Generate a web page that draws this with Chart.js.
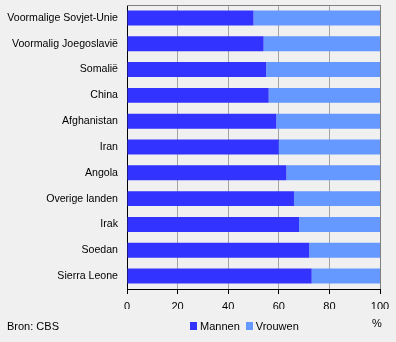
<!DOCTYPE html>
<html>
<head>
<meta charset="utf-8">
<script src="https://cdn.jsdelivr.net/npm/chart.js@4/dist/chart.umd.min.js"></script>
<style>
  html, body { margin:0; padding:0; background:#f0f0f0; }
  #wrap { position:relative; width:396px; height:342px; background:#f0f0f0; font-family:"Liberation Sans", Arial, sans-serif; font-size:11px; color:#000; }
  canvas { position:absolute; left:0; top:0; }
  .txt { position:absolute; white-space:nowrap; line-height:13px; }
  #legend { position:absolute; left:190px; top:320px; display:flex; align-items:center; }
  #legend .item { display:flex; align-items:center; margin-right:6px; }
  #legend .box { width:7px; height:8px; margin-right:3px; }
</style>
</head>
<body>
<div id="wrap">
  <canvas id="c" width="396" height="342"></canvas>
  <div class="txt" style="left:7px; top:320px;">Bron: CBS</div>
  <div class="txt" style="left:372px; top:317px;">%</div>
  <div id="legend"></div>
</div>
<script>
const categories = ["Voormalige Sovjet-Unie","Voormalig Joegoslavië","Somalië","China","Afghanistan","Iran","Angola","Overige landen","Irak","Soedan","Sierra Leone"];
const mannen = [50, 54, 55, 56, 59, 60, 63, 66, 68, 72, 73];
const vrouwen = [50, 46, 45, 44, 41, 40, 37, 34, 32, 28, 27];
const xTicks = [0, 20, 40, 60, 80, 100];
const seriesNames = ["Mannen", "Vrouwen"];
const seriesColors = ["#3333ff", "#6699ff"];

const frame = {
  id: 'frame',
  beforeDatasetsDraw(chart) {
    const a = chart.chartArea, ctx = chart.ctx;
    ctx.save();
    ctx.strokeStyle = '#808080';
    ctx.lineWidth = 1;
    ctx.beginPath();
    ctx.moveTo(a.left, a.top + 0.5);
    ctx.lineTo(a.right + 0.5, a.top + 0.5);
    ctx.lineTo(a.right + 0.5, a.bottom);
    ctx.stroke();
    ctx.restore();
  }
};

const chart = new Chart(document.getElementById('c'), {
  type: 'bar',
  data: {
    labels: categories,
    datasets: [
      { label: seriesNames[0], data: mannen, backgroundColor: seriesColors[0], categoryPercentage: 1, barPercentage: 0.58 },
      { label: seriesNames[1], data: vrouwen, backgroundColor: seriesColors[1], categoryPercentage: 1, barPercentage: 0.58 }
    ]
  },
  options: {
    indexAxis: 'y',
    responsive: false,
    animation: false,
    layout: { padding: { top: 5, right: 16, bottom: 33, left: 0 } },
    plugins: { legend: { display: false }, tooltip: { enabled: false } },
    scales: {
      x: {
        stacked: true, min: 0, max: 100,
        afterBuildTicks: s => { s.ticks = xTicks.map(v => ({ value: v })); },
        afterFit: s => { s.height = 20; s.paddingLeft = 0; },
        ticks: { color: '#000', font: { family: '"Liberation Sans", Arial, sans-serif', size: 11 }, padding: 6, maxRotation: 0 },
        grid: {
          color: ctx => ctx.tick && ctx.tick.value === 0 ? 'rgba(0,0,0,0)' : (ctx.tick && ctx.tick.value === 100 ? '#808080' : '#a4a4a4'),
          lineWidth: 1,
          tickColor: '#000', tickLength: 5, drawTicks: true
        },
        border: { color: '#000', width: 1 }
      },
      y: {
        stacked: true,
        afterFit: s => { s.width = 127; s.paddingTop = 0; s.paddingBottom = 0; },
        ticks: { color: '#000', font: { family: '"Liberation Sans", Arial, sans-serif', size: 10.6 }, padding: 9, autoSkip: false },
        grid: { display: false, drawTicks: false },
        border: { color: '#000', width: 1 }
      }
    }
  },
  plugins: [frame]
});

const lg = document.getElementById('legend');
chart.data.datasets.forEach(ds => {
  const it = document.createElement('div'); it.className = 'item';
  const b = document.createElement('div'); b.className = 'box'; b.style.background = ds.backgroundColor;
  const t = document.createElement('span'); t.textContent = ds.label;
  it.appendChild(b); it.appendChild(t); lg.appendChild(it);
});
</script>
</body>
</html>
